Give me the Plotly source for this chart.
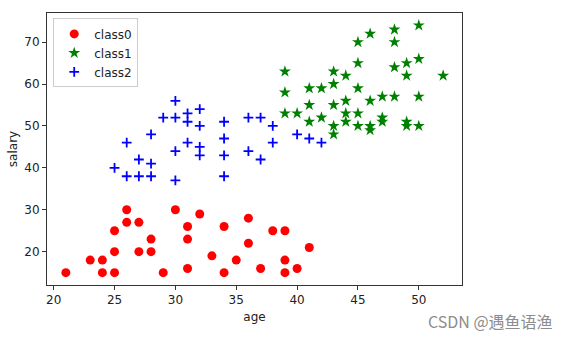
import plotly.graph_objects as go

# class0 (red circles)
c0_age = [21, 23, 24, 24, 25, 25, 25, 26, 26, 27, 27, 28, 28, 29, 30, 31, 31, 31,
          32, 33, 34, 34, 35, 36, 36, 37, 38, 39, 39, 39, 40, 41]
c0_sal = [15, 18, 18, 15, 15, 20, 25, 30, 27, 27, 20, 23, 20, 15, 30, 26, 23, 16,
          29, 19, 26, 15, 18, 28, 22, 16, 25, 25, 18, 15, 16, 21]

# class1 (green stars)
c1_age = [39, 39, 39, 40, 41, 42, 41, 41, 42, 43, 43, 43, 43, 43, 44, 44, 44, 44,
          45, 45, 45, 45, 45, 46, 46, 46, 46, 47, 47, 47, 48, 48, 48, 48,
          50, 50, 49, 49, 52, 50, 49, 49, 50]
c1_sal = [63, 58, 53, 53, 59, 59, 55, 51, 52, 63, 60, 55, 50, 48, 62, 56, 53, 51,
          70, 65, 59, 53, 50, 72, 56, 50, 49, 57, 52, 51, 73, 70, 64, 57,
          74, 66, 65, 62, 62, 57, 51, 50, 50]

# class2 (blue plus)
c2_age = [30, 32, 29, 30, 31, 31, 32, 28, 26, 31, 32, 30, 32, 27, 28, 25, 26, 27,
          28, 30, 34, 34, 34, 34, 36, 37, 38, 38, 36, 37, 40, 41, 42]
c2_sal = [56, 54, 52, 52, 53, 51, 50, 48, 46, 46, 45, 44, 43, 42, 41, 40, 38, 38,
          38, 37, 51, 47, 43, 38, 52, 52, 50, 46, 44, 42, 48, 47, 46]

x_ticks = [20, 25, 30, 35, 40, 45, 50]
y_ticks = [20, 30, 40, 50, 60, 70]

font = "DejaVu Sans, sans-serif"

fig = go.Figure()
fig.add_trace(go.Scatter(x=c0_age, y=c0_sal, mode="markers", name="class0",
                         marker=dict(symbol="circle", size=9, color="red", line=dict(width=0))))
fig.add_trace(go.Scatter(x=c1_age, y=c1_sal, mode="markers", name="class1",
                         marker=dict(symbol="star", size=9, color="green", line=dict(width=0))))
fig.add_trace(go.Scatter(x=c2_age, y=c2_sal, mode="markers", name="class2",
                         marker=dict(symbol="cross-thin", size=7, color="blue",
                                     line=dict(width=1.8, color="blue"))))

axis_common = dict(showgrid=False, zeroline=False, showline=True, mirror=True,
                   linecolor="#333333", linewidth=1, ticks="outside", ticklen=4,
                   tickcolor="#333333", tickfont=dict(size=12, color="#222222", family=font))

fig.update_layout(
    width=570, height=338,
    margin=dict(l=43, r=108, t=13, b=53),
    paper_bgcolor="white", plot_bgcolor="white",
    font=dict(family=font, size=12, color="#222222"),
    xaxis=dict(range=[19.45, 53.55], tickvals=x_ticks,
               title=dict(text="age", font=dict(size=12), standoff=6), **axis_common),
    yaxis=dict(range=[12.05, 76.95], tickvals=y_ticks,
               title=dict(text="salary", font=dict(size=12), standoff=4), **axis_common),
    legend=dict(x=0.015, y=0.98, xanchor="left", yanchor="top",
                bordercolor="#cccccc", borderwidth=1, bgcolor="rgba(255,255,255,0.8)",
                font=dict(size=12, family=font), itemwidth=30,
                tracegroupgap=0),
    showlegend=True,
)

fig.add_annotation(text="CSDN @遇鱼语渔", xref="paper", yref="paper",
                   x=1.0, y=0, xanchor="right", yanchor="middle", xshift=93, yshift=-36,
                   showarrow=False,
                   font=dict(family="Noto Sans CJK SC, sans-serif", size=16, color="#8c8c8c"))

fig.write_html("out.html")
